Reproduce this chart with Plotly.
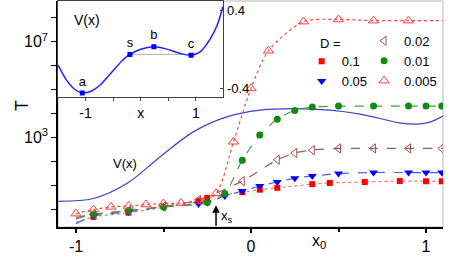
import plotly.graph_objects as go

# ---------------- data ----------------
# D = 0.1 (red squares, dotted)
x_d1 = [-0.9, -0.7, -0.3, -0.25, -0.05, 0.05, 0.15, 0.35, 0.45, 0.65, 0.85, 1.0, 1.09]
T_d1 = [0.48, 0.72, 2.2, 3.0, 5.2, 6.6, 7.9, 11.2, 12.6, 13.8, 15.1, 14.8, 14.8]
# D = 0.05 (blue down triangles, dashed)
x_d2 = [-0.9, -0.7, -0.5, -0.3, -0.25, -0.15, -0.05, 0.05, 0.15, 0.25, 0.35, 0.5, 0.7, 0.9, 1.0, 1.09]
T_d2 = [0.52, 0.78, 1.26, 1.66, 1.9, 3.6, 5.8, 9.4, 13.8, 20.0, 24.5, 30.9, 34.3, 34.3, 34.3, 34.3]
# D = 0.02 (brown open left triangles, dashed)
x_d3 = [-0.9, -0.7, -0.5, -0.3, -0.05, 0.15, 0.25, 0.35, 0.5, 0.7, 0.9, 1.09]
T_d3 = [0.60, 0.87, 1.32, 2.5, 15.1, 117, 224, 295, 347, 347, 347, 347]
# D = 0.01 (green circles, dashed)
x_d4 = [-0.9, -0.7, -0.5, -0.25, -0.15, -0.05, 0.05, 0.15, 0.25, 0.35, 0.5, 0.7, 0.9, 1.0, 1.09]
T_d4 = [0.63, 0.89, 1.26, 1.9, 4.6, 112, 1260, 5750, 13500, 18600, 20400, 20400, 20400, 20400, 20400]
# D = 0.005 (red open triangles, dotted)
x_d5 = [-1.0, -0.9, -0.8, -0.7, -0.6, -0.5, -0.4, -0.3, -0.2, -0.1, 0.0, 0.1, 0.3, 0.5, 0.7, 0.9]
T_d5 = [0.66, 0.98, 1.26, 1.38, 1.58, 1.74, 1.82, 2.24, 4.6, 660, 1.12e5, 4.2e6, 6.9e7, 8.5e7, 7.6e7, 7.6e7]

# fitted-curve end points (left edge / right edge)
line_start_x = -1.0
line_start_T = [0.28, 0.25, 0.40, 0.45, 0.66]
line_end_x = 1.1
line_end_T = [14.8, 34.3, 347, 20400, 7.6e7]

# potential V(x) drawn in the main panel (in T units on the log axis)
vmain_x = [-1.101, -0.901, -0.710, -0.520, -0.330, -0.139, 0.051, 0.242, 0.451, 0.623, 0.869, 0.949, 1.023, 1.097]
vmain_T = [2.16, 2.81, 11.9, 154, 1714, 7280, 13870, 16030, 13870, 9440, 3855, 3597, 4365, 7780]

# inset potential V(x)
vin_x = [-1.498, -1.345, -1.195, -1.062, -0.891, -0.740, -0.589, -0.436, -0.316, -0.195, -0.013,
         0.242, 0.473, 0.715, 0.915, 1.078, 1.260, 1.382, 1.491]
vin_v = [-0.160, -0.314, -0.410, -0.445, -0.425, -0.366, -0.273, -0.177, -0.101, -0.049, 0.002,
         0.029, 0.005, -0.039, -0.057, -0.023, 0.108, 0.242, 0.441]
pts_name = ["a", "s", "b", "c"]
pts_x = [-1.06, -0.195, 0.24, 0.915]
pts_v = [-0.445, -0.049, 0.029, -0.057]

D_labels = ["0.1", "0.05", "0.02", "0.01", "0.005"]
x_tick_vals = [-1, 0, 1]
x_tick_text = ["-1", "0", "1"]
y_tick_vals = [1e3, 1e7]
y_tick_text = ["10<sup>3</sup>", "10<sup>7</sup>"]
y_minor_vals = [1, 10, 100, 1e3, 1e4, 1e5, 1e6, 1e7, 1e8]
x_s = -0.2

FONT = "Liberation Sans, Arial, sans-serif"

series = [
    (x_d1, T_d1, dict(symbol="square", size=6, color="#ff0000"), dict(color="#ff7070", dash="dot", width=1.2), "legend"),
    (x_d2, T_d2, dict(symbol="triangle-down", size=8, color="#0000ff"), dict(color="#4060ff", dash="dash", width=1.2), "legend"),
    (x_d3, T_d3, dict(symbol="triangle-left-open", size=8, color="#a05050", line=dict(width=1)), dict(color="#a05a5a", dash="dash", width=1.2), "legend2"),
    (x_d4, T_d4, dict(symbol="circle", size=7, color="#108a10"), dict(color="#40a040", dash="dash", width=1.2), "legend2"),
    (x_d5, T_d5, dict(symbol="triangle-up-open", size=9, color="#ff4040", line=dict(width=1)), dict(color="#ff4040", dash="dot", width=1.2), "legend2"),
]

fig = go.Figure()

# main V(x)
fig.add_trace(go.Scatter(x=vmain_x, y=vmain_T, mode="lines", line=dict(color="#4040c8", width=1.2, shape="spline"),
                         showlegend=False, hoverinfo="skip"))

for i, (xs, Ts, mk, ln, lg) in enumerate(series):
    lx = [line_start_x] + xs + [line_end_x]
    ly = [line_start_T[i]] + Ts + [line_end_T[i]]
    fig.add_trace(go.Scatter(x=lx, y=ly, mode="lines", line=dict(shape="spline", smoothing=0.8, **ln),
                             showlegend=False, hoverinfo="skip"))
for i, (xs, Ts, mk, ln, lg) in enumerate(series):
    fig.add_trace(go.Scatter(x=xs, y=Ts, mode="markers", marker=mk, name=D_labels[i], legend=lg))

# inset
fig.add_trace(go.Scatter(x=[pts_x[1], pts_x[3]], y=[pts_v[1], pts_v[1]], mode="lines",
                         line=dict(color="#b0b0b0", width=1), xaxis="x2", yaxis="y2", showlegend=False))
fig.add_trace(go.Scatter(x=vin_x, y=vin_v, mode="lines", line=dict(color="#2020ff", width=1.5, shape="spline"),
                         xaxis="x2", yaxis="y2", showlegend=False))
fig.add_trace(go.Scatter(x=pts_x, y=pts_v, mode="markers+text", text=pts_name, textposition="top center",
                         textfont=dict(size=13, color="black", family=FONT),
                         marker=dict(symbol="square", size=5, color="#0000ff"),
                         xaxis="x2", yaxis="y2", showlegend=False))

annotations = [
    dict(text="T", x=-0.0935, y=0.535, xref="paper", yref="paper", textangle=-90, showarrow=False,
         xanchor="center", yanchor="middle", font=dict(size=18, family=FONT, color="black")),
    dict(text="x<sub>0</sub>", x=0.39, y=-0.115, xref="x", yref="paper", showarrow=False,
         font=dict(size=16, family=FONT, color="black")),
    dict(text="V(x)", x=-0.72, y=1.925, xref="x", yref="y", showarrow=False,
         font=dict(size=13, family=FONT, color="black")),
    dict(text="", x=x_s, y=0.17, xref="x", yref="y", ax=0, ay=22, showarrow=True, arrowhead=2,
         arrowsize=1, arrowwidth=1.5, arrowcolor="black"),
    dict(text="x<sub>s</sub>", x=-0.14, y=-0.29, xref="x", yref="y", showarrow=False,
         font=dict(size=13, family=FONT, color="black")),
    dict(text="D =", x=0.675, y=0.855, xref="paper", yref="paper", xanchor="left", showarrow=False,
         font=dict(size=13, family=FONT, color="black")),
    dict(text="V(x)", x=-0.976, y=0.304, xref="x2", yref="y2", showarrow=False,
         font=dict(size=14, family=FONT, color="black")),
]

fig.update_layout(
    width=463, height=261,
    margin=dict(l=58, r=20, t=1, b=34),
    paper_bgcolor="white", plot_bgcolor="white",
    font=dict(family=FONT, color="black"),
    annotations=annotations,
    shapes=[dict(type="rect", xref="paper", yref="paper", x0=0, x1=1, y0=0, y1=1,
                 line=dict(color="#b8b8b8", width=1), layer="below")],
    xaxis=dict(range=[-1.103, 1.097], showgrid=False, zeroline=False, showline=True, linecolor="black",
               linewidth=1.5, ticks="outside", ticklen=4, tickcolor="black", tickwidth=1.5,
               tickmode="array", tickvals=x_tick_vals, ticktext=x_tick_text,
               tickfont=dict(size=16, family=FONT, color="black"),
               minor=dict(tickmode="array", tickvals=[-0.5, 0.5], ticks="outside", ticklen=3, tickcolor="black")),
    yaxis=dict(type="log", range=[-0.74, 8.70], showgrid=False, zeroline=False, showline=True,
               linecolor="black", linewidth=1.5, ticks="outside", ticklen=5, tickcolor="black", tickwidth=1,
               tickmode="array", tickvals=y_tick_vals, ticktext=y_tick_text,
               tickfont=dict(size=16, family=FONT, color="black"),
               minor=dict(tickmode="array", tickvals=y_minor_vals, ticks="outside", ticklen=5, tickcolor="black")),
    xaxis2=dict(domain=[0, 0.4294], anchor="y2", range=[-1.5, 1.5], showgrid=False, zeroline=False,
                showline=True, mirror=True, linecolor="#404040", linewidth=1, ticks="outside", ticklen=3,
                tickmode="array", tickvals=[-1, 0, 1], ticktext=["-1", "x", "1"],
                tickfont=dict(size=14, family=FONT, color="black"),
                minor=dict(tickmode="array", tickvals=[-0.5, 0.5], ticks="outside", ticklen=3)),
    yaxis2=dict(domain=[0.574, 1], anchor="x2", side="right", range=[-0.49, 0.5], showgrid=False,
                zeroline=False, showline=True, mirror=True, linecolor="#404040", linewidth=1,
                ticks="inside", ticklen=3, tickmode="array", tickvals=[-0.4, 0.4], ticktext=["-0.4", "0.4"],
                tickfont=dict(size=13, family=FONT, color="black")),
    legend=dict(x=0.633, y=0.80, xanchor="left", yanchor="top", bgcolor="rgba(0,0,0,0)",
                font=dict(size=13, family=FONT, color="black"), tracegroupgap=0),
    legend2=dict(x=0.795, y=0.89, xanchor="left", yanchor="top", bgcolor="rgba(0,0,0,0)",
                 font=dict(size=13, family=FONT, color="black"), tracegroupgap=0),
)

fig.write_html("out.html", config={"displayModeBar": False},
               post_script="document.body.style.margin='0px';")
